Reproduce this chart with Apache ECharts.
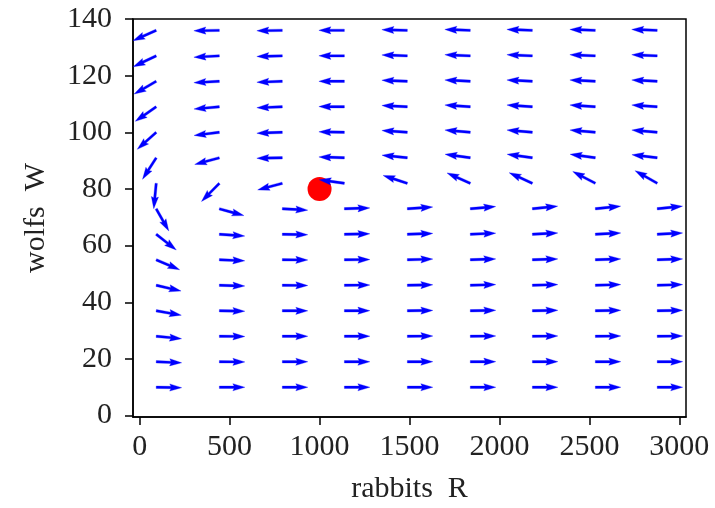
<!DOCTYPE html>
<html>
<head>
<meta charset="utf-8">
<script src="https://cdn.jsdelivr.net/npm/echarts@6/dist/echarts.min.js"></script>
<style>
  html, body { margin: 0; padding: 0; background: #fff; }
  #chart { width: 715px; height: 508px; }
</style>
</head>
<body>
<div id="chart"></div>
<script>
// grid of arrow tails (rabbits R, wolfs W)
const rabbitsGrid = [92, 443, 793, 1138, 1488, 1838, 2183, 2533, 2877];
const wolfsGrid = [10, 19, 28, 37, 46, 55, 64, 73, 82, 91, 100, 109, 118, 127, 136];
// arrow direction in degrees (0 = right, 90 = up), one row per wolfsGrid value
const arrowAngles = [
    [359, 0, 0, 0, 0, 0, 0, 0, 0],
    [357.7, 359.7, 0, 0, 0.2, 0.3, 0.3, 0.3, 0.3],
    [354.5, 359.5, 0, 0.2, 0.5, 0.7, 0.7, 0.7, 0.7],
    [350, 359, 359.8, 0.3, 0.8, 1, 1, 1, 1],
    [347, 358.4, 359.5, 0.5, 1, 1.5, 1.5, 1.5, 1.5],
    [337, 357.6, 359.5, 0.5, 1.5, 2, 2, 2, 2],
    [322, 356, 359, 1, 2, 2.5, 3, 3, 3],
    [299.6, 344.5, 357, 2, 4, 5, 6, 6, 6],
    [264.5, 225.5, 195, 172, 162, 156, 155.4, 152.4, 150.3],
    [237.5, 195, 181, 178, 174, 172, 172, 172, 173],
    [222, 187, 182, 179, 176, 175, 175, 175, 175],
    [214.8, 185, 182, 179.5, 177, 176, 176, 176, 176],
    [210, 183, 182, 180, 177.5, 177, 177, 177, 177],
    [205.5, 183, 181.5, 180, 178, 177.5, 177.5, 177.5, 177.5],
    [204, 181, 181, 180, 178.5, 178, 178, 178, 178]
];
const equilibrium = [[1000, 80]];
const xTicks = [0, 500, 1000, 1500, 2000, 2500, 3000];
const yTicks = [0, 20, 40, 60, 80, 100, 120, 140];

const arrowData = [];
wolfsGrid.forEach((w, i) => {
    rabbitsGrid.forEach((r, j) => {
        arrowData.push([r, w, arrowAngles[i][j]]);
    });
});

// quiver-like arrow, fixed pixel length, tail at the grid point
const ARROW_LEN = 25.5;
const SHAFT_W = 2.4;
function renderArrow(params, api) {
    const p = api.coord([api.value(0), api.value(1)]);
    const a = api.value(2) * Math.PI / 180;
    const dx = Math.cos(a), dy = -Math.sin(a);
    const nx = Math.sin(a), ny = Math.cos(a);
    const w = SHAFT_W / 2, hw = SHAFT_W * 1.5, hl = SHAFT_W * 5, hal = SHAFT_W * 4.5;
    const L = ARROW_LEN;
    const local = [
        [0, -w], [L - hal, -w], [L - hl, -hw], [L, 0],
        [L - hl, hw], [L - hal, w], [0, w]
    ];
    const points = local.map(([lx, ly]) => [p[0] + lx * dx + ly * nx, p[1] + lx * dy + ly * ny]);
    return {
        type: 'polygon',
        shape: { points },
        style: { fill: '#0000ff', stroke: '#0000ff', lineWidth: 0.3 }
    };
}

const font = 'Liberation Serif';
const axisLine = { show: true, onZero: false, lineStyle: { color: '#000', width: 1.5 } };
const chart = echarts.init(document.getElementById('chart'));
chart.setOption({
    animation: false,
    backgroundColor: '#fff',
    grid: {
        left: 133, right: 29, top: 19, bottom: 91,
        outerBoundsMode: 'none', containLabel: false,
        show: true, borderColor: '#000', borderWidth: 1.5
    },
    xAxis: {
        type: 'value',
        min: -37,
        max: 3037,
        name: 'rabbits  R',
        nameLocation: 'middle',
        nameGap: 57,
        nameTextStyle: { fontFamily: font, fontSize: 30, color: '#222' },
        axisLine,
        axisTick: { show: true, length: 8, lineStyle: { color: '#000', width: 1.5 }, customValues: xTicks },
        axisLabel: { fontFamily: font, fontSize: 30, color: '#222', margin: 15, customValues: xTicks, formatter: (v) => String(v) },
        splitLine: { show: false }
    },
    yAxis: {
        type: 'value',
        min: -0.5,
        max: 140,
        name: 'wolfs  W',
        nameLocation: 'middle',
        nameGap: 82,
        nameTextStyle: { fontFamily: font, fontSize: 30, color: '#222' },
        axisLine,
        axisTick: { show: true, length: 8, lineStyle: { color: '#000', width: 1.5 }, customValues: yTicks },
        axisLabel: { fontFamily: font, fontSize: 30, color: '#222', margin: 21, customValues: yTicks, formatter: (v) => String(v) },
        splitLine: { show: false }
    },
    series: [
        {
            type: 'scatter',
            data: equilibrium,
            symbolSize: 24,
            itemStyle: { color: '#ff0000', opacity: 1 },
            z: 2
        },
        {
            type: 'custom',
            coordinateSystem: 'cartesian2d',
            renderItem: renderArrow,
            data: arrowData,
            clip: true,
            z: 3
        }
    ]
});
</script>
</body>
</html>
